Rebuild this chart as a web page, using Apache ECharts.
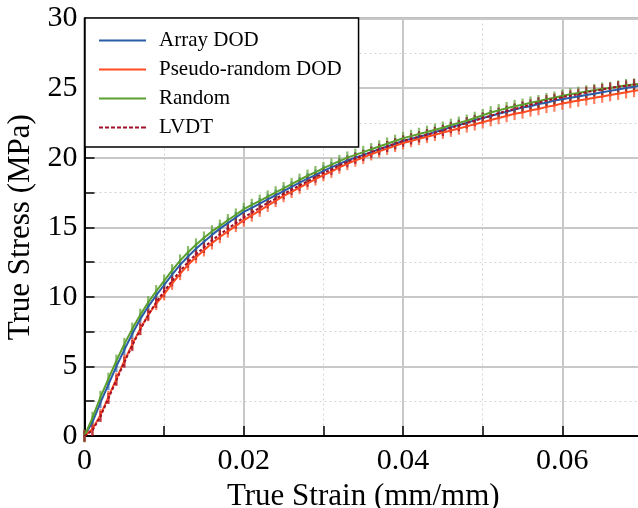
<!DOCTYPE html>
<html><head><meta charset="utf-8">
<script src="https://cdn.jsdelivr.net/npm/echarts@6/dist/echarts.min.js"></script>
<style>html,body{margin:0;padding:0;background:#fff}#c{width:638px;height:508px}</style>
</head><body><div id="c"></div>
<script>
const strain = [0,0.001,0.002,0.003,0.004,0.005,0.006,0.007,0.008,0.009,0.010,0.011,0.012,0.013,0.014,0.015,0.016,0.017,0.018,0.019,0.020,0.021,0.022,0.023,0.024,0.025,0.026,0.027,0.028,0.029,0.030,0.031,0.032,0.033,0.034,0.035,0.036,0.037,0.038,0.039,0.040,0.041,0.042,0.043,0.044,0.045,0.046,0.047,0.048,0.049,0.050,0.051,0.052,0.053,0.054,0.055,0.056,0.057,0.058,0.059,0.060,0.061,0.062,0.063,0.064,0.065,0.066,0.067,0.068,0.069,0.070];
const arrayDOD = [0,1.0,2.4,3.7,5.0,6.2,7.35,8.4,9.3,10.1,10.85,11.6,12.3,12.9,13.45,13.95,14.45,14.9,15.3,15.7,16.1,16.4,16.7,17.0,17.3,17.6,17.9,18.2,18.5,18.75,19.05,19.3,19.55,19.8,20.0,20.2,20.4,20.6,20.8,21.0,21.2,21.35,21.5,21.65,21.85,22.0,22.2,22.35,22.5,22.7,22.85,23.0,23.15,23.3,23.45,23.6,23.7,23.85,23.95,24.1,24.2,24.3,24.4,24.5,24.6,24.7,24.8,24.9,25.0,25.1,25.2];
const pseudoDOD = [0,0.5,1.5,2.8,4.1,5.4,6.6,7.7,8.7,9.5,10.2,10.95,11.65,12.3,12.85,13.35,13.85,14.3,14.7,15.1,15.5,15.85,16.2,16.55,16.9,17.25,17.55,17.85,18.15,18.45,18.75,19.0,19.3,19.55,19.8,20.0,20.25,20.45,20.65,20.85,21.05,21.2,21.35,21.5,21.65,21.8,21.95,22.1,22.25,22.4,22.55,22.7,22.85,23.0,23.15,23.25,23.4,23.5,23.65,23.75,23.9,24.0,24.1,24.2,24.3,24.4,24.5,24.6,24.7,24.8,24.9];
const randomDOD = [0,1.3,2.8,4.1,5.4,6.6,7.7,8.7,9.6,10.4,11.15,11.9,12.6,13.2,13.75,14.25,14.7,15.1,15.5,15.9,16.3,16.6,16.9,17.2,17.5,17.8,18.1,18.4,18.7,18.95,19.25,19.5,19.75,20.0,20.2,20.4,20.6,20.8,21.0,21.2,21.4,21.55,21.7,21.85,22.0,22.15,22.35,22.5,22.65,22.85,23.05,23.25,23.4,23.55,23.7,23.8,23.95,24.05,24.2,24.3,24.45,24.55,24.65,24.75,24.85,24.95,25.0,25.1,25.2,25.25,25.35];
const lvdt = [0,0.4,1.4,2.7,4.0,5.3,6.5,7.65,8.7,9.6,10.4,11.15,11.85,12.5,13.05,13.55,14.05,14.5,14.9,15.3,15.7,16.05,16.4,16.75,17.05,17.4,17.7,18.0,18.3,18.6,18.9,19.15,19.45,19.7,19.95,20.15,20.4,20.6,20.8,21.0,21.2,21.35,21.5,21.65,21.8,21.95,22.15,22.3,22.5,22.65,22.85,23.0,23.2,23.35,23.5,23.65,23.8,23.95,24.1,24.2,24.35,24.45,24.55,24.7,24.8,24.9,25.0,25.1,25.15,25.25,25.3];
const errArray = 0.4, errPseudo = 0.45, errRandom = 0.45, errLvdt = 0.4;
const names = ['Array DOD','Pseudo-random DOD','Random','LVDT'];
const colors = ['#2a5ca8','#ff4b1f','#5aa02c','#a0102a'];
const xTicks = ['0','0.02','0.04','0.06'];

const FONT = 'Liberation Serif';
const sets = [arrayDOD, pseudoDOD, randomDOD, lvdt];
const errs = [errArray, errPseudo, errRandom, errLvdt];

const series = [];
sets.forEach((vals, i) => {
  series.push({
    type: 'custom', name: names[i] + ' err', z: 2, silent: true,
    data: strain.map((x, k) => [x, vals[k], errs[i]]),
    renderItem: function (params, api) {
      const x = api.value(0), y = api.value(1), e = api.value(2);
      const p1 = api.coord([x, y - e]), p2 = api.coord([x, y + e]);
      return { type: 'line', shape: {x1: p1[0], y1: p1[1], x2: p2[0], y2: p2[1]},
        style: { stroke: colors[i], lineWidth: 2.2, opacity: 0.7 } };
    }
  });
});
sets.forEach((vals, i) => {
  series.push({
    type: 'line', name: names[i], z: 3, symbol: 'none', smooth: false,
    data: strain.map((x, k) => [x, vals[k]]),
    lineStyle: { color: colors[i], width: 2, type: i === 3 ? [3, 2] : 'solid' },
    itemStyle: { color: colors[i] }
  });
});

const solidIcon = 'path://M0,0h47v2h-47z';
const dashIcon = 'path://M0,0h4v2h-4zM6,0h4v2h-4zM12,0h4v2h-4zM18,0h4v2h-4zM24,0h4v2h-4zM30,0h4v2h-4zM36,0h4v2h-4zM42,0h5v2h-5z';

const chart = echarts.init(document.getElementById('c'), null, {renderer: 'canvas'});
chart.setOption({
  backgroundColor: '#fff',
  animation: false,
  grid: { left: 84.5, top: 18.5, right: -4, bottom: 72, show: true, borderColor: '#000', borderWidth: 1.5, backgroundColor: 'transparent', containLabel: false, outerBoundsMode: 'none' },
  legend: {
    data: names.map((n, i) => ({ name: n, icon: i === 3 ? dashIcon : solidIcon, itemStyle: { color: colors[i], borderWidth: 0 } })),
    orient: 'vertical', left: 85, top: 18,
    backgroundColor: '#fff', borderColor: '#000', borderWidth: 1.5, borderRadius: 0,
    padding: [12, 17, 9, 14], itemGap: 8, itemWidth: 47, itemHeight: 2,
    textStyle: { fontFamily: FONT, fontSize: 21, color: '#000', lineHeight: 21, padding: [0, 0, 0, 8] },
    z: 10
  },
  xAxis: {
    type: 'value', min: 0, max: 0.07, interval: 0.02,
    name: 'True Strain (mm/mm)', nameLocation: 'middle', nameGap: 40,
    nameTextStyle: { fontFamily: FONT, fontSize: 31, color: '#000' },
    axisLine: { show: true, onZero: false, lineStyle: { color: '#000', width: 2 } },
    axisTick: { show: true, inside: true, length: 10, lineStyle: { color: '#000', width: 1.5 } },
    minorTick: { show: true, splitNumber: 2, length: 10, lineStyle: { color: '#000', width: 1.5 } },
    axisLabel: { fontFamily: FONT, fontSize: 30, color: '#000', margin: 10, showMaxLabel: false,
      formatter: function (v) { const idx = Math.round(v / 0.02); return xTicks[idx] !== undefined ? xTicks[idx] : ''; } },
    splitLine: { show: true, lineStyle: { color: '#c8c8c8', width: 2 } },
    minorSplitLine: { show: true, lineStyle: { color: '#d4d4d4', width: 1, type: [2, 3] } }
  },
  yAxis: {
    type: 'value', min: 0, max: 30, interval: 5,
    name: 'True Stress (MPa)', nameLocation: 'middle', nameGap: 46,
    nameTextStyle: { fontFamily: FONT, fontSize: 31, color: '#000' },
    axisLine: { show: true, onZero: false, lineStyle: { color: '#000', width: 2 } },
    axisTick: { show: true, inside: true, length: 10, lineStyle: { color: '#000', width: 1.5 } },
    minorTick: { show: true, splitNumber: 2, length: 10, lineStyle: { color: '#000', width: 1.5 } },
    axisLabel: { fontFamily: FONT, fontSize: 30, color: '#000', margin: 7 },
    splitLine: { show: true, lineStyle: { color: '#c8c8c8', width: 2 } },
    minorSplitLine: { show: true, lineStyle: { color: '#d4d4d4', width: 1, type: [2, 3] } }
  },
  series: series
});
</script></body></html>
